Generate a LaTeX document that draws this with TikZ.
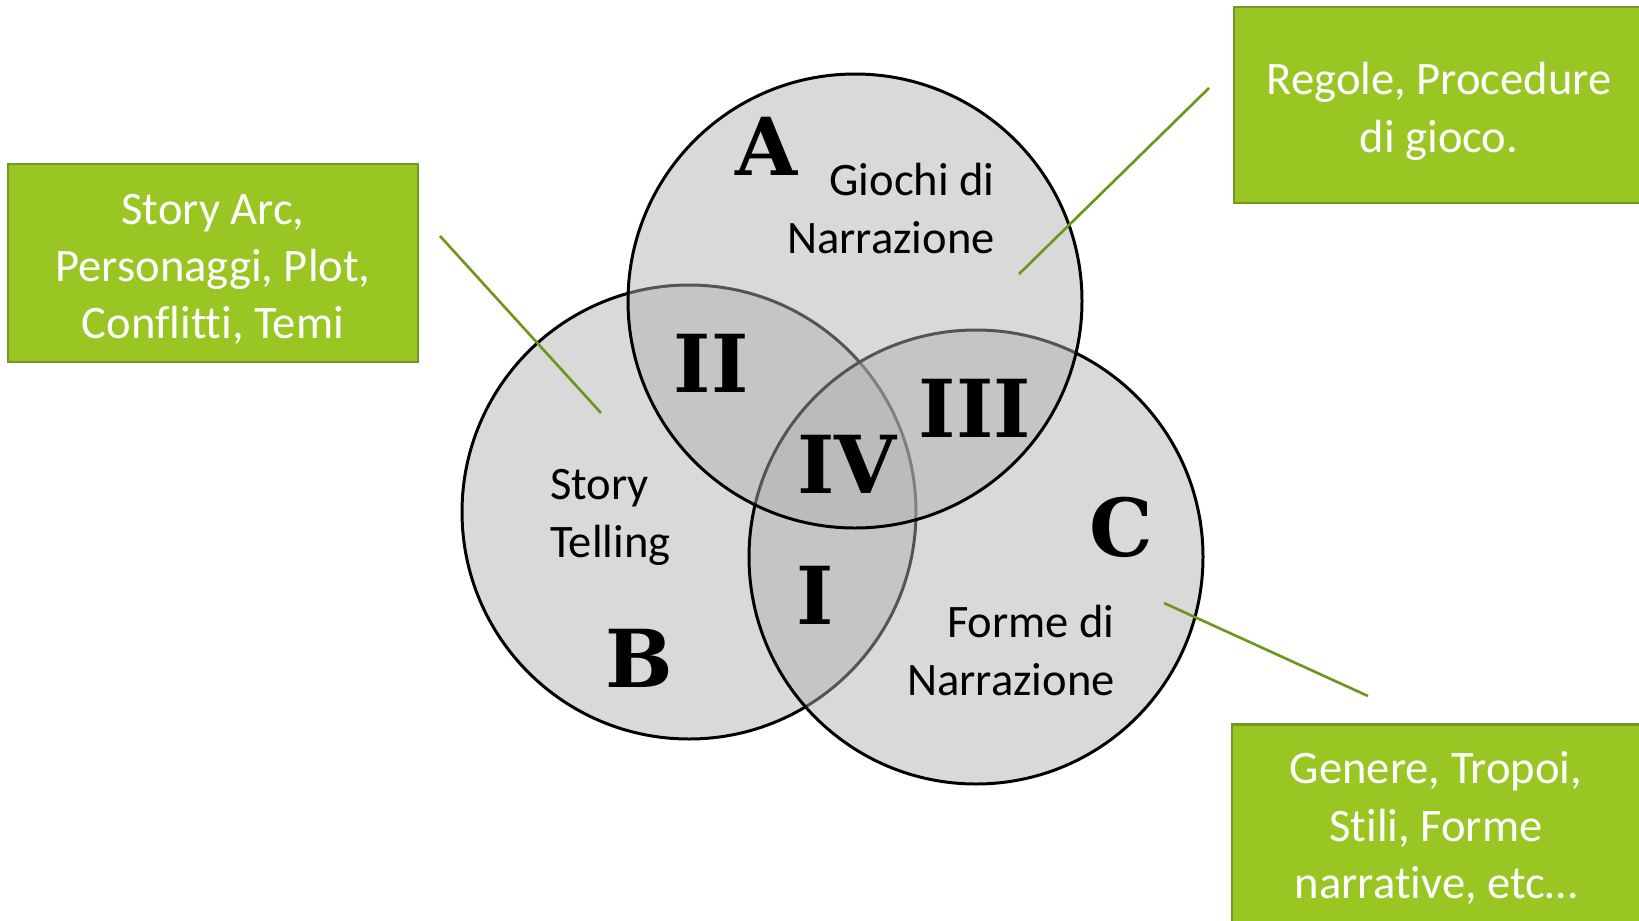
\documentclass[tikz,border=0pt]{standalone}
\usepackage{fontspec}
\setmainfont{Carlito}[Ligatures=NoCommon]
\newfontfamily\slabfont{DejaVu Serif}
\definecolor{setgray}{RGB}{176,176,176}
\definecolor{notefill}{RGB}{154,198,36}
\definecolor{noteedge}{RGB}{114,153,37}
\definecolor{linkgreen}{RGB}{108,150,28}
\newcommand{\toplift}[1]{\rule{0pt}{#1}}
\tikzset{
  setdisc/.style={fill=setgray, fill opacity=0.48, draw=black, line width=1.7pt},
  zone/.style={font=\slabfont\bfseries\fontsize{45.5}{45.5}\selectfont, anchor=base, inner sep=0pt},
  setname/.style={font=\fontsize{26.5}{32.6}\selectfont, inner sep=0pt},
  note/.style={fill=notefill, draw=noteedge, line width=1.5pt, text=white,
    font=\fontsize{26.5}{32.6}\selectfont, align=center, inner sep=0pt},
  link/.style={draw=linkgreen, line width=1.5pt}
}
\begin{document}
\begin{tikzpicture}[x=0.02cm, y=-0.02cm]
\useasboundingbox (0,0) rectangle (1639,920);
\clip (0,0) rectangle (1639,920);

% the three sets: B, then C, then A on top
\coordinate (cB) at (689,512);
\coordinate (cC) at (976,557);
\coordinate (cA) at (855,301);
\path[setdisc] (cB) circle[radius=227];
\path[setdisc] (cC) circle[radius=227];
\path[setdisc] (cA) circle[radius=227];

% set letters and intersection numerals
\node[zone] (zA)   at (767,175) {A};
\node[zone] (zB)   at (639,687) {B};
\node[zone] (zC)   at (1121,556) {C};
\node[zone] (zI)   at (815,624) {I};
\node[zone] (zII)  at (711,392) {II};
\node[zone] (zIII) at (975,437) {III};
\node[zone] (zIV)  at (847,493) {IV};

% set names (anchored on the baseline of their last line)
\node[setname, align=right, anchor=base east] (nA) at (995,253) {Giochi di\\Narrazione};
\node[setname, align=left, anchor=base west] (nB) at (550,557) {Story\\Telling};
\node[setname, align=right, anchor=base east] (nC) at (1115,695) {Forme di\\Narrazione};

% callout boxes (a strut on the first line sets the text a little lower)
\node[note, minimum width=8.2cm, minimum height=3.96cm] (boxB) at (213,263)
  {\toplift{24.5pt}Story Arc,\\Personaggi, Plot,\\Conflitti, Temi};
\node[note, minimum width=8.2cm, minimum height=3.92cm] (boxA) at (1439,105)
  {\toplift{25.5pt}Regole, Procedure\\di gioco.};
\node[note, minimum width=8.16cm, minimum height=4.14cm] (boxC) at (1436,828)
  {Genere, Tropoi,\\Stili, Forme\\narrative, etc\dots};

% connectors
\coordinate (lB1) at (440,236);
\coordinate (lB2) at (601,413);
\coordinate (lA1) at (1209,88);
\coordinate (lA2) at (1019,274);
\coordinate (lC1) at (1164,603);
\coordinate (lC2) at (1368,696);
\draw[link] (lB1) -- (lB2);
\draw[link] (lA1) -- (lA2);
\draw[link] (lC1) -- (lC2);
\end{tikzpicture}
\end{document}
